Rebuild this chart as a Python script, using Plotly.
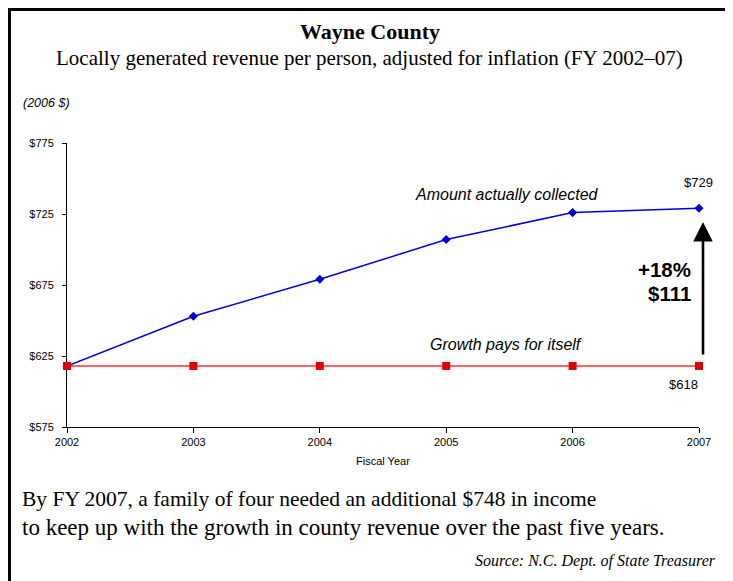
import plotly.graph_objects as go

years = [2002, 2003, 2004, 2005, 2006, 2007]
collected = [618, 653, 679, 707, 726, 729]
growth_pays = [618, 618, 618, 618, 618, 618]
y_ticks = [575, 625, 675, 725, 775]
y_tick_text = ["$575", "$625", "$675", "$725", "$775"]

OFF = 8  # browser body margin
W, H = 733 - OFF, 581 - OFF
L, R, T, B = 67 - OFF, 699 - OFF, 143 - OFF, 427 - OFF


def px(x):
    return (x - OFF - L) / (R - L)


def py(y):
    return (B - (y - OFF)) / (B - T)


fig = go.Figure()
fig.add_trace(go.Scatter(
    x=years, y=collected, mode="lines+markers",
    line=dict(color="#0000dd", width=1.5),
    marker=dict(symbol="diamond", size=7, color="#0000cc"),
    cliponaxis=False, showlegend=False, hoverinfo="skip"))
fig.add_trace(go.Scatter(
    x=years, y=growth_pays, mode="lines+markers",
    line=dict(color="#ff3030", width=1.5),
    marker=dict(symbol="square", size=8, color="#e00000"),
    cliponaxis=False, showlegend=False, hoverinfo="skip"))

SERIF = "Liberation Serif"
SANS = "Liberation Sans"

ann = []


def text(x, y, s, size, family=SANS, color="black", xanchor="center", bold=False, italic=False):
    if bold:
        s = "<b>" + s + "</b>"
    if italic:
        s = "<i>" + s + "</i>"
    ann.append(dict(x=px(x), y=py(y), xref="paper", yref="paper", text=s, showarrow=False,
                    xanchor=xanchor, yanchor="middle", font=dict(family=family, size=size, color=color)))


text(370, 32, "Wayne County", 22, SERIF, bold=True)
text(369, 58, "Locally generated revenue per person, adjusted for inflation (FY 2002–07)", 21, SERIF)
text(21, 103, "(2006 $)", 12.5, SANS, xanchor="left", italic=True)
text(507, 194, "Amount actually collected", 16, SANS, italic=True)
text(506, 344, "Growth pays for itself", 16, SANS, italic=True)
text(698, 182, "$729", 13, SANS)
text(683, 384, "$618", 13, SANS)
text(693, 269, "+18%", 20.5, SANS, xanchor="right", bold=True)
text(693, 293, "$111", 20.5, SANS, xanchor="right", bold=True)
text(383, 461, "Fiscal Year", 11, SANS)
text(20, 499, "By FY 2007, a family of four needed an additional $748 in income", 21.5, SERIF, xanchor="left")
text(20, 527, "to keep up with the growth in county revenue over the past five years.", 23, SERIF, xanchor="left")
text(718, 561, "Source: N.C. Dept. of State Treasurer", 16, SERIF, xanchor="right", italic=True)

# arrow
ann.append(dict(x=px(703), y=py(222), ax=0, ay=134, xref="paper", yref="paper",
                axref="pixel", ayref="pixel", text="", showarrow=True, arrowhead=2,
                arrowsize=1.5, arrowwidth=2.6, arrowcolor="black"))

shapes = [
    dict(type="line", xref="paper", yref="paper", x0=px(OFF), x1=px(728), y0=py(OFF + 1.5), y1=py(OFF + 1.5),
         line=dict(color="black", width=3)),
    dict(type="line", xref="paper", yref="paper", x0=px(OFF + 1.5), x1=px(OFF + 1.5), y0=py(OFF), y1=py(600),
         line=dict(color="black", width=3)),
    dict(type="line", xref="paper", yref="paper", x0=px(726.5), x1=px(726.5), y0=py(OFF), y1=py(600),
         line=dict(color="black", width=3)),
]

fig.update_layout(
    width=W, height=H, autosize=False,
    margin=dict(l=L, r=W - R, t=T, b=H - B, pad=0),
    paper_bgcolor="white", plot_bgcolor="white",
    annotations=ann, shapes=shapes,
    xaxis=dict(range=[2002, 2007], tickvals=years, showgrid=False, zeroline=False,
               showline=True, linecolor="black", linewidth=1, ticks="outside", ticklen=5,
               tickcolor="black", tickfont=dict(family=SANS, size=11, color="black"),
               layer="below traces"),
    yaxis=dict(range=[575, 775], tickvals=y_ticks, ticktext=y_tick_text, showgrid=False, zeroline=False,
               showline=True, linecolor="black", linewidth=1, ticks="outside", ticklen=4,
               tickcolor="black", tickfont=dict(family=SANS, size=11, color="black"),
               ticklabelstandoff=6, layer="below traces"),
)

fig.write_html("out.html")
